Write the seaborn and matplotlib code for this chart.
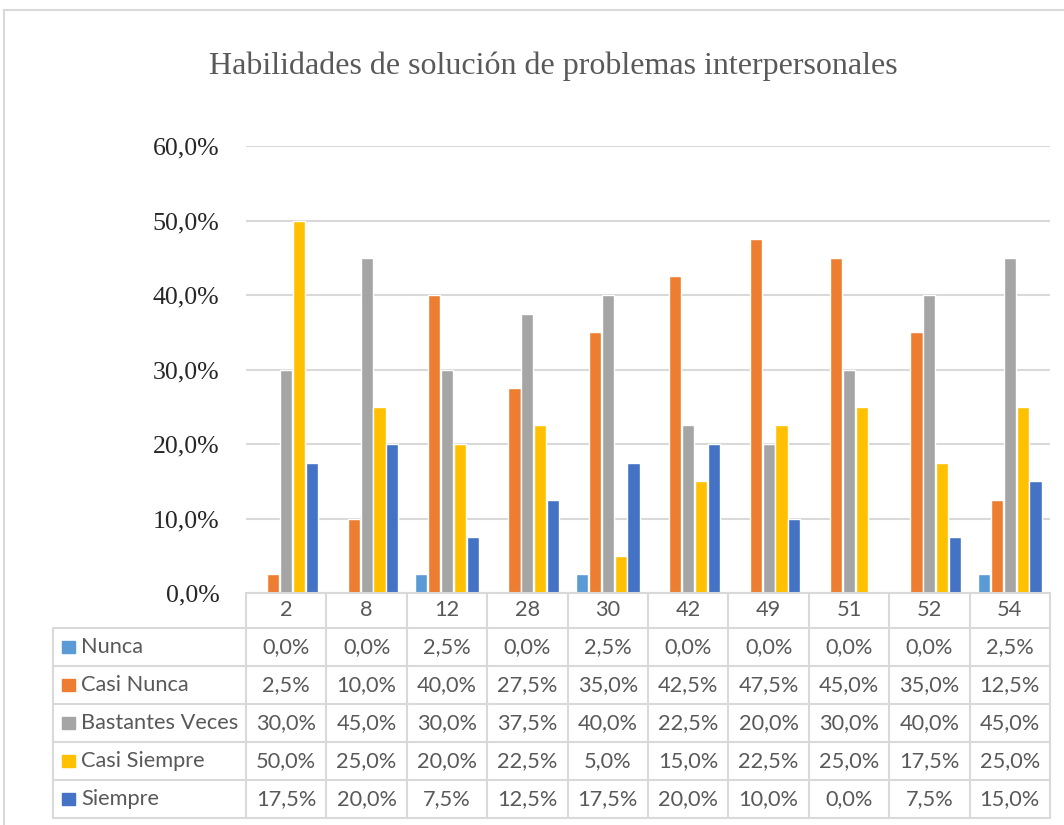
import numpy as np
import pandas as pd
import seaborn as sns
import matplotlib.pyplot as plt
from matplotlib.patches import Rectangle

categories = ["2", "8", "12", "28", "30", "42", "49", "51", "52", "54"]
series_names = ["Nunca", "Casi Nunca", "Bastantes Veces", "Casi Siempre", "Siempre"]
nunca = [0.0, 0.0, 2.5, 0.0, 2.5, 0.0, 0.0, 0.0, 0.0, 2.5]
casi_nunca = [2.5, 10.0, 40.0, 27.5, 35.0, 42.5, 47.5, 45.0, 35.0, 12.5]
bastantes_veces = [30.0, 45.0, 30.0, 37.5, 40.0, 22.5, 20.0, 30.0, 40.0, 45.0]
casi_siempre = [50.0, 25.0, 20.0, 22.5, 5.0, 15.0, 22.5, 25.0, 17.5, 25.0]
siempre = [17.5, 20.0, 7.5, 12.5, 17.5, 20.0, 10.0, 0.0, 7.5, 15.0]
colors = ["#5B9BD5", "#ED7D31", "#A5A5A5", "#FFC000", "#4472C4"]
y_ticks = [0, 10, 20, 30, 40, 50, 60]

series_values = [nunca, casi_nunca, bastantes_veces, casi_siempre, siempre]
rows = []
for name, vals in zip(series_names, series_values):
    for cat, v in zip(categories, vals):
        rows.append({"Pregunta": cat, "Serie": name, "Valor": v})
df = pd.DataFrame(rows)

sns.set_theme(style="white")
W, H = 1064, 825
fig = plt.figure(figsize=(W / 100, H / 100), dpi=100)

grid_c = "#D9D9D9"
text_c = "#595959"
serif = ["Liberation Serif", "DejaVu Serif"]
sans = ["Lato", "DejaVu Sans"]
tfs = 15.7

# chart border
fig.patches.append(Rectangle((4 / W, -0.01), 1.1, (H - 10) / H + 0.01, transform=fig.transFigure,
                             fill=False, edgecolor=grid_c, linewidth=1.5))

x0, x1 = 246, 1050
y_top, y_axis, y_bottom = 146, 593, 818
ax = fig.add_axes([x0 / W, (H - y_axis) / H, (x1 - x0) / W, (y_axis - y_top) / H])
sns.barplot(data=df, x="Pregunta", y="Valor", hue="Serie", order=categories,
            hue_order=series_names, palette=colors, width=0.8, gap=0.06,
            ax=ax, legend=False, saturation=1)
ax.set_xlim(-0.5, len(categories) - 0.5)
ax.set_ylim(0, 60)
ax.set_yticks(y_ticks)
ax.set_yticklabels([f"{t:.1f}%".replace(".", ",") for t in y_ticks],
                   family=serif, fontsize=18.6, color="#262626")
ax.tick_params(axis="y", length=0, pad=19)
ax.set_xticks([])
ax.set_xlabel("")
ax.set_ylabel("")
for s in ax.spines.values():
    s.set_visible(False)
ax.grid(axis="y", color=grid_c, linewidth=1.5)
ax.set_axisbelow(True)
ax.patch.set_alpha(0)

fig.text(553 / W, (H - 66) / H, "Habilidades de solución de problemas interpersonales",
         ha="center", va="center", family=serif, fontsize=23, color=text_c)

# data table
tx0 = 53
label_w = (x0 - tx0) / ((x1 - x0) / len(categories))
tax = fig.add_axes([tx0 / W, (H - y_bottom) / H, (x1 - tx0) / W, (y_bottom - y_axis) / H])
n_rows = len(series_names)
header_h = 35 / 38
total_h = header_h + n_rows
tax.set_xlim(-0.5 - label_w, len(categories) - 0.5)
tax.set_ylim(-total_h, 0)
tax.axis("off")

lw = 1.5
# horizontal lines
tax.plot([-0.5, len(categories) - 0.5], [0, 0], color=grid_c, lw=lw, clip_on=False)
for r in range(n_rows + 1):
    y = -header_h - r
    tax.plot([-0.5 - label_w, len(categories) - 0.5], [y, y], color=grid_c, lw=lw, clip_on=False)
# vertical lines
for c in range(len(categories) + 1):
    xx = c - 0.5
    tax.plot([xx, xx], [0, -total_h], color=grid_c, lw=lw, clip_on=False)
tax.plot([-0.5 - label_w] * 2, [-header_h, -total_h], color=grid_c, lw=lw, clip_on=False)

for c, cat in enumerate(categories):
    tax.text(c, -header_h / 2, cat, ha="center", va="center", family=sans, fontsize=tfs, color=text_c)
sq = 0.16
for r, (name, vals, col) in enumerate(zip(series_names, series_values, colors)):
    yc = -header_h - r - 0.5
    tax.add_patch(Rectangle((-0.5 - label_w + 0.11, yc - 0.17), sq, 0.34, color=col, clip_on=False))
    tax.text(-0.5 - label_w + 0.35, yc, name, ha="left", va="center", family=sans,
             fontsize=tfs, color=text_c)
    for c, v in enumerate(vals):
        tax.text(c, yc, f"{v:.1f}%".replace(".", ","), ha="center", va="center",
                 family=sans, fontsize=tfs, color=text_c)

fig.savefig("out.png", dpi=100)
